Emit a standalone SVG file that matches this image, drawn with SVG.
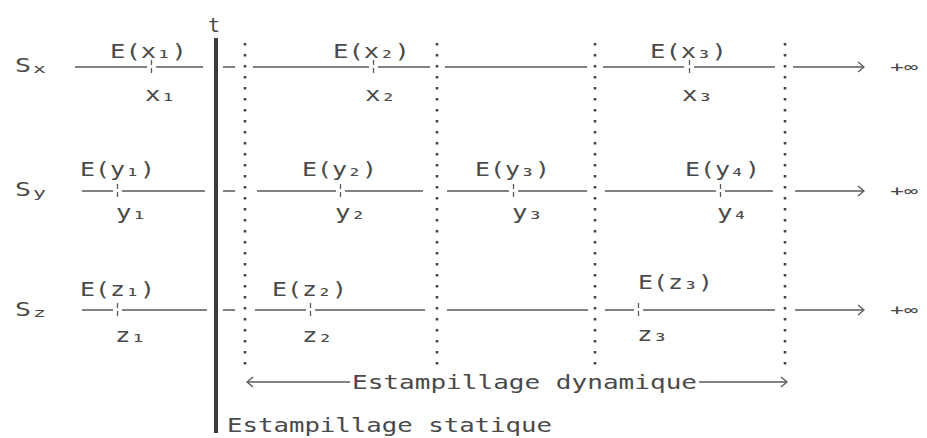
<svg xmlns="http://www.w3.org/2000/svg" width="927" height="438" viewBox="0 0 927 438">
<style>
  .t { font-family: "DejaVu Sans Mono", "Liberation Mono", monospace; font-size: 20px; fill: #4a4a4a; }
  .s { font-family: "DejaVu Sans Mono", "Liberation Mono", monospace; font-size: 12px; fill: #4a4a4a; }
  .inf { font-family: "DejaVu Sans Mono", "Liberation Mono", monospace; font-size: 14px; fill: #4a4a4a; }
  .seg { stroke: #5a5a5a; stroke-width: 1.3; fill: none; }
  .tick { stroke: #5a5a5a; stroke-width: 1.3; stroke-dasharray: 5 3; }
  .dot { stroke: #444; stroke-width: 2.6; stroke-dasharray: 2.6 8.4; }
  .head { stroke: #5a5a5a; stroke-width: 1.3; fill: none; }
</style>
<rect width="927" height="438" fill="#ffffff"/>

<!-- series labels -->
<g id="label-sx"><text class="t" x="15" y="72" textLength="16" lengthAdjust="spacingAndGlyphs">S</text><text class="s" x="33" y="73" textLength="13" lengthAdjust="spacingAndGlyphs">x</text></g>
<g id="label-sy"><text class="t" x="15" y="196" textLength="16" lengthAdjust="spacingAndGlyphs">S</text><text class="s" x="33" y="197" textLength="13" lengthAdjust="spacingAndGlyphs">y</text></g>
<g id="label-sz"><text class="t" x="15" y="316" textLength="16" lengthAdjust="spacingAndGlyphs">S</text><text class="s" x="33" y="317" textLength="13" lengthAdjust="spacingAndGlyphs">z</text></g>

<!-- static stamp axis -->
<g id="axis-t">
  <text class="t" x="214" y="32" text-anchor="middle">t</text>
  <line x1="216" y1="38" x2="216" y2="433" stroke="#3a3a3a" stroke-width="4"/>
  <text class="t" x="227" y="432" textLength="325" lengthAdjust="spacingAndGlyphs">Estampillage statique</text>
</g>

<!-- dynamic windows (dotted boundaries) -->
<g id="windows">
  <line class="dot" x1="245" y1="43" x2="245" y2="365"/>
  <line class="dot" x1="437" y1="43" x2="437" y2="365"/>
  <line class="dot" x1="595" y1="43" x2="595" y2="365"/>
  <line class="dot" x1="785" y1="43" x2="785" y2="365"/>
</g>

<g id="dynamic-label">
  <polyline class="head" points="253,377 247,382 253,387"/>
  <line class="seg" x1="248" y1="382" x2="350" y2="382"/>
  <text class="t" x="352" y="389" textLength="345" lengthAdjust="spacingAndGlyphs">Estampillage dynamique</text>
  <line class="seg" x1="699" y1="382" x2="787" y2="382"/>
  <polyline class="head" points="781,377 787,382 781,387"/>
</g>

<!-- connectors: timeline segments -->
<g id="connectors">
  <!-- Sx -->
  <path class="seg" d="M75 67H147 M156 67H203 M223 67H235 M253 67H369 M378 67H430 M445 67H587 M603 67H684 M694 67H775 M793 67H864"/>
  <!-- Sy -->
  <path class="seg" d="M82 191H113 M122 191H205 M223 191H235 M257 191H336 M345 191H423 M447 191H509 M518 191H587 M605 191H716 M725 191H773 M795 191H864"/>
  <!-- Sz -->
  <path class="seg" d="M82 310H113 M122 310H207 M223 310H235 M255 310H306 M315 310H425 M447 310H588 M605 310H634 M643 310H775 M795 310H864"/>
  <polyline class="head" points="858,62 864,67 858,72"/>
  <polyline class="head" points="858,186 864,191 858,196"/>
  <polyline class="head" points="858,305 864,310 858,315"/>
</g>

<g id="inf-x"><text class="inf" x="890" y="72" textLength="28" lengthAdjust="spacingAndGlyphs">+∞</text></g>
<g id="inf-y"><text class="inf" x="890" y="196" textLength="28" lengthAdjust="spacingAndGlyphs">+∞</text></g>
<g id="inf-z"><text class="inf" x="890" y="315" textLength="28" lengthAdjust="spacingAndGlyphs">+∞</text></g>

<!-- events Sx -->
<g id="ev-x1"><text class="t" x="110" y="58" textLength="77" lengthAdjust="spacingAndGlyphs">E(x₁)</text><line class="tick" x1="151.5" y1="60" x2="151.5" y2="75"/><text class="t" x="145" y="101" textLength="31" lengthAdjust="spacingAndGlyphs">x₁</text></g>
<g id="ev-x2"><text class="t" x="333" y="58" textLength="77" lengthAdjust="spacingAndGlyphs">E(x₂)</text><line class="tick" x1="373.5" y1="60" x2="373.5" y2="75"/><text class="t" x="365" y="101" textLength="31" lengthAdjust="spacingAndGlyphs">x₂</text></g>
<g id="ev-x3"><text class="t" x="650" y="58" textLength="77" lengthAdjust="spacingAndGlyphs">E(x₃)</text><line class="tick" x1="689.5" y1="60" x2="689.5" y2="75"/><text class="t" x="682" y="101" textLength="31" lengthAdjust="spacingAndGlyphs">x₃</text></g>

<!-- events Sy -->
<g id="ev-y1"><text class="t" x="80" y="176" textLength="75" lengthAdjust="spacingAndGlyphs">E(y₁)</text><line class="tick" x1="117.5" y1="184" x2="117.5" y2="199"/><text class="t" x="116" y="219" textLength="31" lengthAdjust="spacingAndGlyphs">y₁</text></g>
<g id="ev-y2"><text class="t" x="302" y="176" textLength="75" lengthAdjust="spacingAndGlyphs">E(y₂)</text><line class="tick" x1="340.5" y1="184" x2="340.5" y2="199"/><text class="t" x="335" y="219" textLength="31" lengthAdjust="spacingAndGlyphs">y₂</text></g>
<g id="ev-y3"><text class="t" x="475" y="176" textLength="75" lengthAdjust="spacingAndGlyphs">E(y₃)</text><line class="tick" x1="513.5" y1="184" x2="513.5" y2="199"/><text class="t" x="512" y="219" textLength="31" lengthAdjust="spacingAndGlyphs">y₃</text></g>
<g id="ev-y4"><text class="t" x="685" y="176" textLength="75" lengthAdjust="spacingAndGlyphs">E(y₄)</text><line class="tick" x1="720.5" y1="184" x2="720.5" y2="199"/><text class="t" x="717" y="219" textLength="31" lengthAdjust="spacingAndGlyphs">y₄</text></g>

<!-- events Sz -->
<g id="ev-z1"><text class="t" x="80" y="296" textLength="75" lengthAdjust="spacingAndGlyphs">E(z₁)</text><line class="tick" x1="117.5" y1="303" x2="117.5" y2="318"/><text class="t" x="115" y="342" textLength="31" lengthAdjust="spacingAndGlyphs">z₁</text></g>
<g id="ev-z2"><text class="t" x="272" y="296" textLength="75" lengthAdjust="spacingAndGlyphs">E(z₂)</text><line class="tick" x1="310.5" y1="303" x2="310.5" y2="318"/><text class="t" x="302" y="342" textLength="31" lengthAdjust="spacingAndGlyphs">z₂</text></g>
<g id="ev-z3"><text class="t" x="638" y="289" textLength="75" lengthAdjust="spacingAndGlyphs">E(z₃)</text><line class="tick" x1="638.5" y1="303" x2="638.5" y2="318"/><text class="t" x="637" y="341" textLength="31" lengthAdjust="spacingAndGlyphs">z₃</text></g>
</svg>
